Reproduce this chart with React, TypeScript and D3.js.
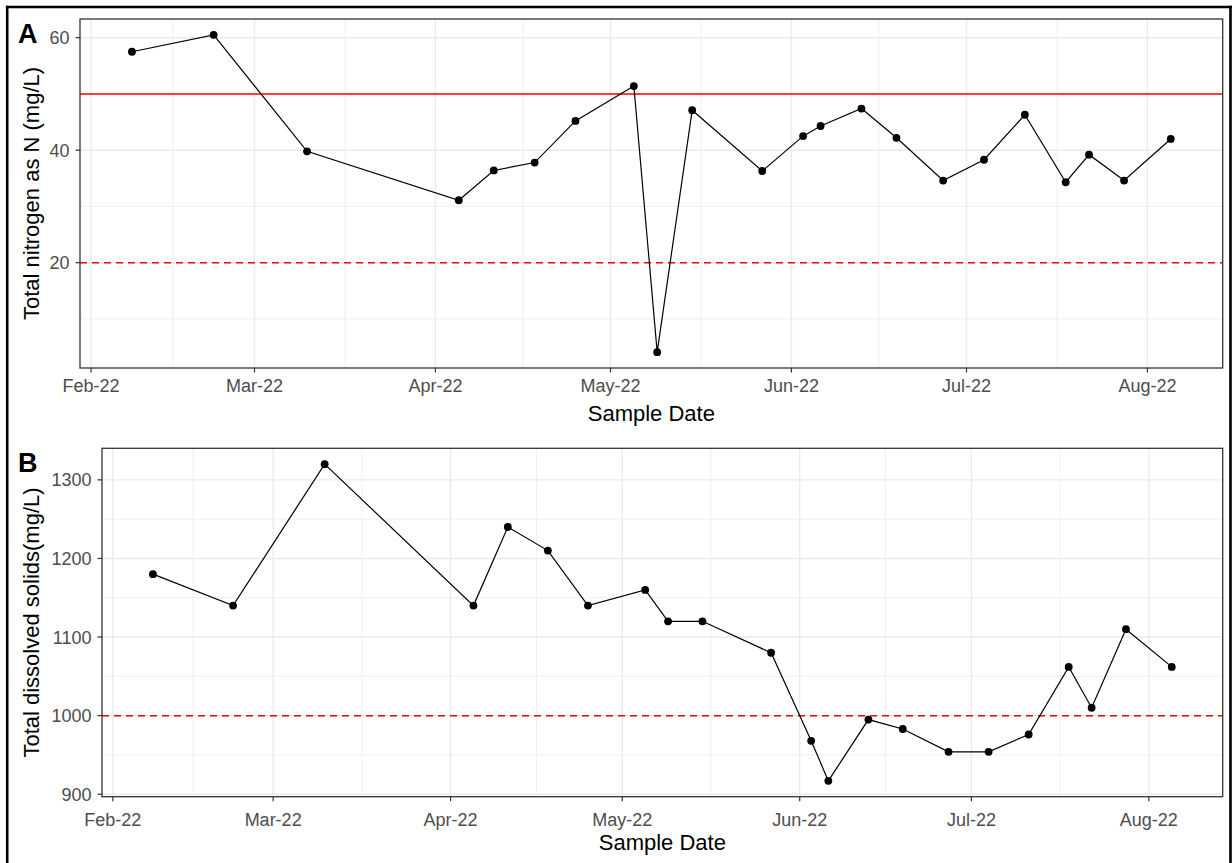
import React from "react";
import * as d3 from "d3";

// ---------- data ----------
const sampleDates = [
  "2022-02-08", "2022-02-22", "2022-03-10", "2022-04-05", "2022-04-11",
  "2022-04-18", "2022-04-25", "2022-05-05", "2022-05-09", "2022-05-15",
  "2022-05-27", "2022-06-03", "2022-06-06", "2022-06-13", "2022-06-19",
  "2022-06-27", "2022-07-04", "2022-07-11", "2022-07-18", "2022-07-22",
  "2022-07-28", "2022-08-05",
];
const totalNitrogen = [
  57.5, 60.5, 39.8, 31.1, 36.4, 37.8, 45.2, 51.4, 4.1, 47.1, 36.3,
  42.5, 44.3, 47.4, 42.2, 34.6, 38.3, 46.3, 34.3, 39.2, 34.6, 42.0,
];
const totalDissolvedSolids = [
  1180, 1140, 1320, 1140, 1240, 1210, 1140, 1160, 1120, 1120, 1080,
  968, 917, 995, 983, 954, 954, 976, 1062, 1010, 1110, 1062,
];
const nitrogenTicks = [20, 40, 60];
const nitrogenMinor = [10, 30, 50];
const tdsTicks = [900, 1000, 1100, 1200, 1300];
const tdsMinor = [950, 1050, 1150, 1250];
const nitrogenSolidLimit = 50;
const nitrogenDashedLimit = 20;
const tdsDashedLimit = 1000;

const FONT = "'Liberation Sans', Arial, sans-serif";

function expand(lo: number, hi: number): [number, number] {
  const d = (hi - lo) * 0.05;
  return [lo - d, hi + d];
}

type PanelProps = {
  letter: string;
  values: number[];
  left: number;
  right: number;
  top: number;
  bottom: number;
  yTicks: number[];
  yMinor: number[];
  yTitle: string;
  solidLine?: number;
  dashedLine?: number;
  tickBaseline: number;
  titleBaseline: number;
};

function Panel(p: PanelProps) {
  const dates = sampleDates.map((s) => new Date(s + "T00:00:00Z"));
  const [t0, t1] = expand(+dates[0], +dates[dates.length - 1]);
  const x = d3.scaleUtc().domain([new Date(t0), new Date(t1)]).range([p.left, p.right]);
  const [v0, v1] = expand(d3.min(p.values)!, d3.max(p.values)!);
  const y = d3.scaleLinear().domain([v0, v1]).range([p.bottom, p.top]);

  const monthTicks = x.ticks(d3.utcMonth.every(1)!);
  const fmt = d3.utcFormat("%b-%y");
  const xMinor: Date[] = [];
  for (let i = 0; i < monthTicks.length - 1; i++) {
    xMinor.push(new Date((+monthTicks[i] + +monthTicks[i + 1]) / 2));
  }
  const [dLo, dHi] = x.domain();
  const inX = (d: Date) => +d >= +dLo && +d <= +dHi;

  const line = d3
    .line<number>()
    .x((_, i) => x(dates[i]))
    .y((v) => y(v));

  const gridColor = "#EBEBEB";
  const axisColor = "#333333";
  const midY = (p.top + p.bottom) / 2;

  return (
    <g>
      {/* minor grid */}
      {p.yMinor.map((v) => (
        <line key={"ym" + v} x1={p.left} x2={p.right} y1={y(v)} y2={y(v)} stroke={gridColor} strokeWidth={0.8} />
      ))}
      {xMinor.filter(inX).map((d) => (
        <line key={"xm" + +d} x1={x(d)} x2={x(d)} y1={p.top} y2={p.bottom} stroke={gridColor} strokeWidth={0.8} />
      ))}
      {/* major grid */}
      {p.yTicks.map((v) => (
        <line key={"yg" + v} x1={p.left} x2={p.right} y1={y(v)} y2={y(v)} stroke={gridColor} strokeWidth={1.4} />
      ))}
      {monthTicks.map((d) => (
        <line key={"xg" + +d} x1={x(d)} x2={x(d)} y1={p.top} y2={p.bottom} stroke={gridColor} strokeWidth={1.4} />
      ))}
      {/* reference lines */}
      {p.solidLine !== undefined && (
        <line x1={p.left} x2={p.right} y1={y(p.solidLine)} y2={y(p.solidLine)} stroke="#FF0000" strokeWidth={1.4} />
      )}
      {p.dashedLine !== undefined && (
        <line x1={p.left} x2={p.right} y1={y(p.dashedLine)} y2={y(p.dashedLine)} stroke="#FF0000" strokeWidth={1.5} strokeDasharray="7,5" />
      )}
      {/* data */}
      <path d={line(p.values) || ""} fill="none" stroke="#000" strokeWidth={1.2} />
      {p.values.map((v, i) => (
        <circle key={"pt" + i} cx={x(dates[i])} cy={y(v)} r={3.9} fill="#000" />
      ))}
      {/* panel border */}
      <rect x={p.left} y={p.top} width={p.right - p.left} height={p.bottom - p.top} fill="none" stroke={axisColor} strokeWidth={1.3} />
      {/* y axis */}
      {p.yTicks.map((v) => (
        <g key={"yt" + v}>
          <line x1={p.left - 4.5} x2={p.left} y1={y(v)} y2={y(v)} stroke={axisColor} strokeWidth={1.2} />
          <text x={p.left - 10.5} y={y(v)} dy="0.36em" textAnchor="end" fontSize={18} fill="#4D4D4D" fontFamily={FONT}>
            {v}
          </text>
        </g>
      ))}
      {/* x axis */}
      {monthTicks.map((d) => (
        <g key={"xt" + +d}>
          <line x1={x(d)} x2={x(d)} y1={p.bottom} y2={p.bottom + 4.5} stroke={axisColor} strokeWidth={1.2} />
          <text x={x(d)} y={p.tickBaseline} textAnchor="middle" fontSize={18} fill="#4D4D4D" fontFamily={FONT}>
            {fmt(d)}
          </text>
        </g>
      ))}
      <text x={(p.left + p.right) / 2} y={p.titleBaseline} textAnchor="middle" fontSize={22} fill="#000" fontFamily={FONT}>
        Sample Date
      </text>
      <text transform={`translate(39,${midY}) rotate(-90)`} textAnchor="middle" fontSize={22} fill="#000" fontFamily={FONT}>
        {p.yTitle}
      </text>
      <text x={18} y={p.top + 24} fontSize={27} fontWeight="bold" fill="#000" fontFamily={FONT}>
        {p.letter}
      </text>
    </g>
  );
}

export default function App() {
  return (
    <svg
      width={1232}
      height={863}
      style={{ position: "absolute", left: 0, top: 0, background: "#fff" }}
    >
      <rect x={0} y={0} width={1232} height={863} fill="#fff" />
      <Panel
        letter="A"
        values={totalNitrogen}
        left={80}
        right={1222.7}
        top={19}
        bottom={368}
        yTicks={nitrogenTicks}
        yMinor={nitrogenMinor}
        yTitle="Total nitrogen as N (mg/L)"
        solidLine={nitrogenSolidLimit}
        dashedLine={nitrogenDashedLimit}
        tickBaseline={392}
        titleBaseline={421}
      />
      <Panel
        letter="B"
        values={totalDissolvedSolids}
        left={102}
        right={1222.7}
        top={448.3}
        bottom={796.7}
        yTicks={tdsTicks}
        yMinor={tdsMinor}
        yTitle="Total dissolved solids(mg/L)"
        dashedLine={tdsDashedLimit}
        tickBaseline={826}
        titleBaseline={850}
      />
      {/* outer frame */}
      <line x1={7.2} x2={7.2} y1={5.8} y2={863} stroke="#000" strokeWidth={2.6} />
      <line x1={5.9} x2={1232} y1={7} y2={7} stroke="#000" strokeWidth={2.6} />
      <line x1={1230.5} x2={1230.5} y1={5.8} y2={863} stroke="#000" strokeWidth={2.6} />
    </svg>
  );
}
